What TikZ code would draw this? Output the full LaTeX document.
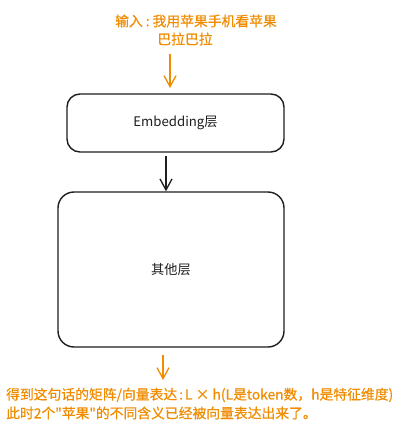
\documentclass[tikz,border=0pt]{standalone}
\usepackage{fontspec}
\setmainfont{Noto Sans CJK SC}[Ligatures=TeXOff]
\newfontfamily\orfont{Noto Sans CJK SC}[Ligatures=TeXOff, FakeBold=0.6]
\usetikzlibrary{arrows.meta}
\definecolor{exorange}{HTML}{F08C00}
\definecolor{exblack}{HTML}{1E1E1E}
\tikzset{
  layerbox/.style={draw=exblack, line width=1.4pt, fill=white, rounded corners=13pt},
  flowarrow/.style={line width=1.3pt, -{Straight Barb[length=11pt,width=12pt,line width=1.3pt]}},
  orangetext/.style={text=exorange, font=\orfont\fontsize{13.8}{17}\selectfont, inner sep=0pt},
  blacktext/.style={text=exblack, font=\fontsize{13.2}{16}\selectfont, inner sep=0pt}
}
\begin{document}
\begin{tikzpicture}[x=1pt,y=-1pt]
\useasboundingbox[fill=white] (0,0) rectangle (417,433);
% input text
\node[orangetext] (in1) at (196,21) {输入\hspace{3pt}:\hspace{3pt}我用苹果手机看苹果};
\node[orangetext] (in2) at (185,39) {巴拉巴拉};
\coordinate (a1s) at (170,54);
\coordinate (a1e) at (170,88);
% boxes
\node[layerbox, minimum width=217pt, minimum height=58pt] (emb) at (175.5,123) {};
\node[blacktext] at (emb.center) {Embedding层};
\node[layerbox, rounded corners=16pt, minimum width=226pt, minimum height=155pt] (other) at (171,269.5) {};
\node[blacktext] at (other.center) {其他层};
% arrows
\draw[flowarrow, draw=exorange] (a1s) -- (a1e);
\coordinate (a2s) at (166,156);
\draw[flowarrow, draw=exblack] (a2s) -- (a2s |- other.north);
\coordinate (a3s) at (163,355);
\coordinate (a3e) at (163,380);
\draw[flowarrow, draw=exorange] (a3s) -- (a3e);
% output text
\node[orangetext, anchor=west] (out1) at (6,395) {得到这句话的矩阵/向量表达\hspace{2pt}:\hspace{2pt}L × h(L是token数，h是特征维度)};
\node[orangetext, anchor=west] (out2) at (6,413) {此时2个"苹果"的不同含义已经被向量表达出来了。};
\end{tikzpicture}
\end{document}
